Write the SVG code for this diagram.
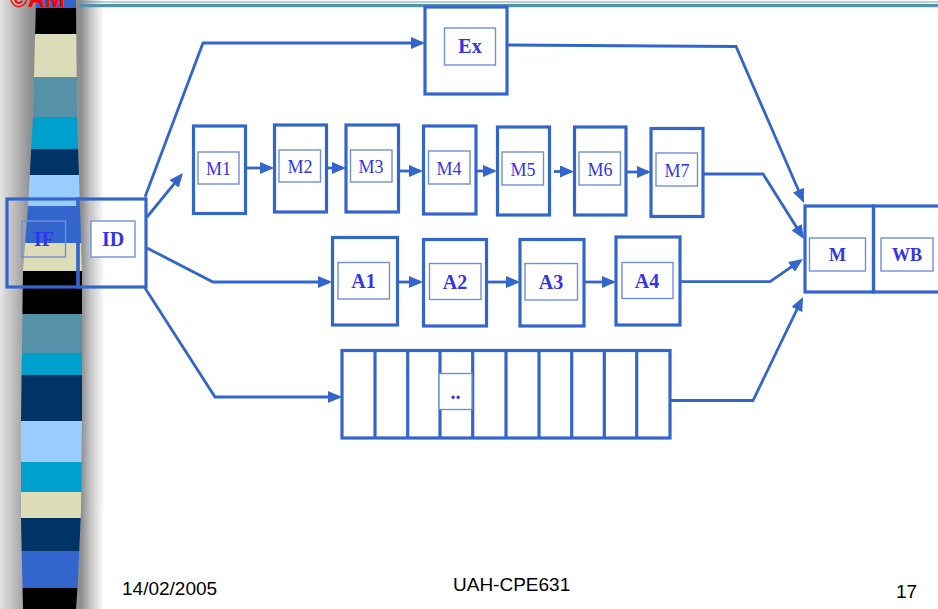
<svg xmlns="http://www.w3.org/2000/svg" width="938" height="609" viewBox="0 0 938 609">
<defs>
<linearGradient id="shadow" gradientUnits="userSpaceOnUse" x1="0" y1="0" x2="110" y2="0">
<stop offset="0" stop-color="#e4e4e4"/>
<stop offset="0.28" stop-color="#8e8e8e"/>
<stop offset="0.74" stop-color="#8e8e8e"/>
<stop offset="0.82" stop-color="#c4c4c4"/>
<stop offset="0.95" stop-color="#ffffff"/>
</linearGradient>
<clipPath id="barclip">
<polygon points="36,0 76,0 77,117 80,206 82,271 82,420 81,510 78,580 76,609 23,609 21,520 21,420 23,271 28,206 33,117"/>
</clipPath>
<marker id="ah" viewBox="0 0 14 12" refX="11" refY="6" markerWidth="14" markerHeight="12" orient="auto" markerUnits="userSpaceOnUse">
<path d="M0,0 L14,6 L0,12 z" fill="#3366cc"/>
</marker>
<style>
.ob{fill:none;stroke:#3366cc;stroke-width:3.2}
.obw{fill:#ffffff;stroke:#3366cc;stroke-width:3.2}
.ib{fill:#ffffff;stroke:#6f8fdc;stroke-width:1.4}
.ibn{fill:none;stroke:#6f8fdc;stroke-width:1.4}
.c{fill:none;stroke:#3366cc;stroke-width:2.8;marker-end:url(#ah)}
.cn{fill:none;stroke:#3366cc;stroke-width:3.2}
.tb{font-family:"Liberation Serif","Times New Roman",serif;font-weight:bold;font-size:20px;fill:#3333ee;text-anchor:middle}
.tn{font-family:"Liberation Serif","Times New Roman",serif;font-size:18px;fill:#3333ee;text-anchor:middle}
.ft{font-family:"Liberation Sans",Arial,sans-serif;font-size:19px;fill:#000000}
</style>
</defs>
<rect x="0" y="0" width="938" height="609" fill="#ffffff"/>
<rect x="0" y="0" width="110" height="609" fill="url(#shadow)"/>
<g clip-path="url(#barclip)">
<rect x="0" y="0" width="110" height="8" fill="#3366cc"/>
<rect x="0" y="8" width="110" height="26" fill="#000000"/>
<rect x="0" y="34" width="110" height="43" fill="#dcdcb8"/>
<rect x="0" y="77" width="110" height="40" fill="#5592aa"/>
<rect x="0" y="117" width="110" height="32" fill="#00a0cc"/>
<rect x="0" y="149" width="110" height="26" fill="#003366"/>
<rect x="0" y="175" width="110" height="31" fill="#99ccff"/>
<rect x="0" y="206" width="110" height="37" fill="#3366cc"/>
<rect x="0" y="243" width="110" height="28" fill="#dcdcb8"/>
<rect x="0" y="271" width="110" height="43" fill="#000000"/>
<rect x="0" y="314" width="110" height="39" fill="#5592aa"/>
<rect x="0" y="353" width="110" height="22" fill="#00a0cc"/>
<rect x="0" y="375" width="110" height="46" fill="#003366"/>
<rect x="0" y="421" width="110" height="41" fill="#99ccff"/>
<rect x="0" y="462" width="110" height="30" fill="#00a0cc"/>
<rect x="0" y="492" width="110" height="26" fill="#dcdcb8"/>
<rect x="0" y="518" width="110" height="33" fill="#003366"/>
<rect x="0" y="551" width="110" height="37" fill="#3366cc"/>
<rect x="0" y="588" width="110" height="21" fill="#000000"/>
</g>
<line x1="79" y1="2" x2="938" y2="2" stroke="#6a9fb5" stroke-width="1"/>
<rect x="79" y="4" width="859" height="3.2" fill="#5592aa"/>
<text x="10" y="7" font-family="'Liberation Sans',Arial,sans-serif" font-weight="bold" font-size="24" fill="#ff0000">©AM</text>

<g id="connectors">
<polyline class="c" points="145,197 203,43 422,43"/>
<polyline class="c" points="147,217 181.1,175.3"/>
<polyline class="c" points="147,248 213,282 329,282"/>
<polyline class="c" points="145,288 215,397 339,397"/>
<line class="c" x1="246" y1="168" x2="271" y2="168"/>
<line class="c" x1="327" y1="168" x2="343" y2="168"/>
<line class="c" x1="398" y1="171" x2="420" y2="171"/>
<line class="c" x1="476" y1="171" x2="494" y2="171"/>
<line class="c" x1="554" y1="171.5" x2="571" y2="171.5"/>
<line class="c" x1="626" y1="172" x2="648" y2="172"/>
<line class="c" x1="397" y1="282" x2="420" y2="282"/>
<line class="c" x1="487" y1="282" x2="517" y2="282"/>
<line class="c" x1="584" y1="282" x2="613" y2="282"/>
<polyline class="c" points="507,45 736,46.5 802.8,200.2"/>
<polyline class="c" points="703,174 763,174 802.4,236.5"/>
<polyline class="c" points="680,281.7 770,281.7 800.5,260.7"/>
<polyline class="c" points="670,400.5 753,400.5 801.7,299.7"/>
</g>

<g id="if">
<rect class="ob" x="7" y="199" width="71" height="88"/>
<rect class="ibn" x="22" y="221" width="43.5" height="36"/>
<text class="tb" x="44" y="246">IF</text>
</g>
<g id="id">
<rect class="ob" x="78" y="199" width="68" height="88"/>
<rect class="ib" x="91" y="221" width="44" height="36"/>
<text class="tb" x="113" y="246">ID</text>
</g>

<g id="ex">
<rect class="obw" x="425" y="7" width="82" height="87"/>
<rect class="ib" x="444.5" y="28" width="51" height="37"/>
<text class="tb" x="470" y="53">Ex</text>
</g>

<g id="m1"><rect class="obw" x="193.5" y="126" width="52" height="87.5"/><rect class="ib" x="198" y="152" width="41" height="32"/><text class="tn" x="218.5" y="174.5">M1</text></g>
<g id="m2"><rect class="obw" x="274.5" y="125" width="52" height="87"/><rect class="ib" x="279" y="150" width="41.5" height="32"/><text class="tn" x="300" y="172.5">M2</text></g>
<g id="m3"><rect class="obw" x="346" y="125" width="52.5" height="87"/><rect class="ib" x="350.5" y="150" width="41.5" height="32"/><text class="tn" x="371" y="172.5">M3</text></g>
<g id="m4"><rect class="obw" x="423.5" y="126" width="52.5" height="88"/><rect class="ib" x="428.5" y="151" width="41.5" height="33"/><text class="tn" x="449" y="174.5">M4</text></g>
<g id="m5"><rect class="obw" x="497.5" y="127" width="52" height="88"/><rect class="ib" x="502" y="152" width="41.5" height="33"/><text class="tn" x="523" y="175.5">M5</text></g>
<g id="m6"><rect class="obw" x="574.5" y="127" width="51.5" height="88"/><rect class="ib" x="579" y="152" width="41.5" height="33"/><text class="tn" x="600" y="175.5">M6</text></g>
<g id="m7"><rect class="obw" x="651" y="128.5" width="52" height="88"/><rect class="ib" x="656" y="153" width="41.5" height="33"/><text class="tn" x="677" y="176.5">M7</text></g>

<g id="a1"><rect class="obw" x="332.5" y="237.5" width="65" height="87.5"/><rect class="ib" x="338" y="262.5" width="51.5" height="36.5"/><text class="tb" x="363.5" y="288">A1</text></g>
<g id="a2"><rect class="obw" x="423.5" y="239.5" width="63" height="86.5"/><rect class="ib" x="429.5" y="263.5" width="51.5" height="36"/><text class="tb" x="455" y="289">A2</text></g>
<g id="a3"><rect class="obw" x="520" y="239.5" width="64" height="86.5"/><rect class="ib" x="525" y="263.5" width="52.5" height="36.5"/><text class="tb" x="551" y="289">A3</text></g>
<g id="a4"><rect class="obw" x="616" y="237" width="64" height="88"/><rect class="ib" x="622" y="262.5" width="51" height="36"/><text class="tb" x="647" y="288">A4</text></g>

<g id="div">
<rect class="obw" x="342" y="350.5" width="328" height="87.5"/>
<line class="cn" x1="375" y1="350.5" x2="375" y2="438"/>
<line class="cn" x1="407.7" y1="350.5" x2="407.7" y2="438"/>
<line class="cn" x1="440" y1="350.5" x2="440" y2="438"/>
<line class="cn" x1="472.7" y1="350.5" x2="472.7" y2="438"/>
<line class="cn" x1="506" y1="350.5" x2="506" y2="438"/>
<line class="cn" x1="539" y1="350.5" x2="539" y2="438"/>
<line class="cn" x1="571.7" y1="350.5" x2="571.7" y2="438"/>
<line class="cn" x1="604.3" y1="350.5" x2="604.3" y2="438"/>
<line class="cn" x1="636.7" y1="350.5" x2="636.7" y2="438"/>
<rect class="ib" x="439" y="373.5" width="33" height="36"/>
<text class="tb" x="455.5" y="399">..</text>
</g>

<g id="m">
<rect class="ob" x="805" y="206" width="68.5" height="86"/>
<rect class="ib" x="809.5" y="238" width="56" height="33"/>
<text class="tb" x="837.5" y="261" style="font-size:18px">M</text>
</g>
<g id="wb">
<rect class="ob" x="873.5" y="206" width="66.5" height="86"/>
<rect class="ib" x="881" y="238" width="52" height="33"/>
<text class="tb" x="907" y="261" style="font-size:18px">WB</text>
</g>

<text class="ft" x="122" y="595">14/02/2005</text>
<text class="ft" x="453" y="591">UAH-CPE631</text>
<text class="ft" x="896" y="598">17</text>
</svg>
